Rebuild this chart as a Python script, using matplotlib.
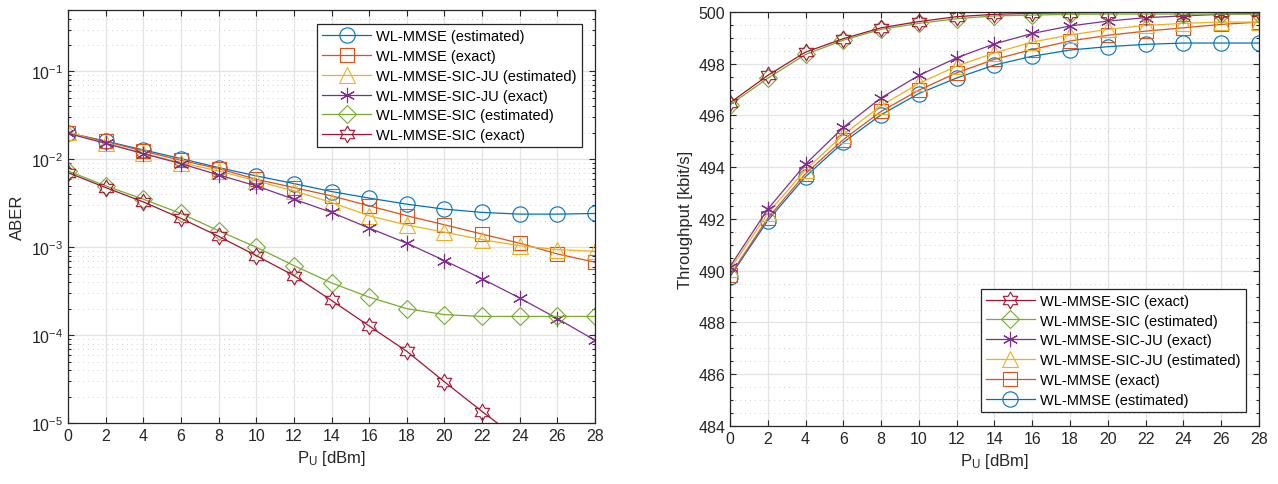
import numpy as np
import matplotlib
matplotlib.use("Agg")
import matplotlib.pyplot as plt
from matplotlib.path import Path
from matplotlib.ticker import MultipleLocator, LogLocator, NullFormatter

plt.rcParams['font.family'] = ['Liberation Sans', 'DejaVu Sans']
plt.rcParams['mathtext.fontset'] = 'custom'
plt.rcParams['mathtext.rm'] = 'Liberation Sans'
plt.rcParams['mathtext.it'] = 'Liberation Sans:italic'
plt.rcParams['mathtext.bf'] = 'Liberation Sans:bold'

# data
p_u = np.arange(0, 30, 2)

aber_mmse_est = [0.0200, 0.0161, 0.0128, 0.0102, 0.00805, 0.00648, 0.0053, 0.0043, 0.00362,
                 0.00309, 0.00271, 0.00249, 0.00238, 0.00238, 0.00242]
aber_mmse_exact = [0.0200, 0.0160, 0.0124, 0.00974, 0.00784, 0.00593, 0.00477, 0.00384, 0.00296,
                   0.00228, 0.00180, 0.00141, 0.00111, 0.000838, 0.000675]
aber_ju_est = [0.0204, 0.0152, 0.0117, 0.00917, 0.00738, 0.00568, 0.00438, 0.00323, 0.00228,
               0.00179, 0.00148, 0.00122, 0.00104, 0.000938, 0.000899]
aber_ju_exact = [0.0197, 0.0152, 0.0116, 0.00893, 0.00664, 0.00499, 0.00352, 0.00249, 0.00165,
                 0.00111, 0.000705, 0.000437, 0.000264, 0.000154, 0.0000873]
aber_sic_est = [0.00738, 0.00499, 0.00352, 0.00242, 0.00154, 0.00100, 0.000618, 0.000393, 0.000270,
                0.000200, 0.000171, 0.000163, 0.000163, 0.000163, 0.000163]
aber_sic_exact = [0.00706, 0.00477, 0.00328, 0.00213, 0.00133, 0.000802, 0.000476, 0.000248, 0.000127,
                  0.0000654, 0.0000294, 0.0000135, 0.0000064, 0.0000029, 0.0000013]

thr_mmse_est = [489.77, 491.94, 493.64, 494.96, 496.03, 496.85, 497.45, 497.95, 498.29,
                498.53, 498.66, 498.75, 498.80, 498.80, 498.80]
thr_mmse_exact = [489.82, 492.03, 493.75, 495.07, 496.16, 496.98, 497.65, 498.17, 498.55,
                  498.88, 499.10, 499.26, 499.39, 499.52, 499.61]
thr_ju_est = [490.05, 492.22, 493.90, 495.26, 496.38, 497.24, 497.91, 498.42, 498.84,
              499.11, 499.33, 499.48, 499.56, 499.61, 499.61]
thr_ju_exact = [490.16, 492.38, 494.12, 495.54, 496.68, 497.55, 498.23, 498.77, 499.17,
                499.46, 499.65, 499.78, 499.85, 499.91, 499.95]
thr_sic_est = [496.41, 497.44, 498.36, 498.91, 499.33, 499.56, 499.74, 499.85, 499.88,
               499.91, 499.92, 499.92, 499.92, 499.92, 499.92]
thr_sic_exact = [496.49, 497.55, 498.45, 498.97, 499.39, 499.63, 499.82, 499.91, 499.95,
                 499.97, 499.98, 499.99, 500.0, 500.0, 500.0]

labels = ['WL-MMSE (estimated)', 'WL-MMSE (exact)', 'WL-MMSE-SIC-JU (estimated)',
          'WL-MMSE-SIC-JU (exact)', 'WL-MMSE-SIC (estimated)', 'WL-MMSE-SIC (exact)']

# matlab default colours / markers
colors = ['#0072BD', '#D95319', '#EDB120', '#7E2F8E', '#77AC30', '#A2142F']
hexagram = Path.unit_regular_star(6, 0.577)
asterisk = (6, 2, 0)
markers = ['o', 's', '^', asterisk, 'D', hexagram]
msizes = [11, 10, 11, 11, 9, 12]
axcol = '#262626'


def style_axes(ax):
    ax.set_xlim(0, 28)
    ax.xaxis.set_major_locator(MultipleLocator(2))
    ax.tick_params(which='both', direction='in', top=True, right=True, colors=axcol,
                   labelsize=11.5, width=0.8)
    ax.tick_params(which='major', length=4)
    ax.tick_params(which='minor', length=2.5)
    ax.tick_params(axis='x', which='minor', bottom=False, top=False)
    for s in ax.spines.values():
        s.set_color(axcol)
        s.set_linewidth(0.9)
    ax.grid(True, which='major', color='#e3e3e3', linewidth=0.9, linestyle='-')
    ax.grid(True, which='minor', axis='y', color='#cfcfcf', linewidth=0.7, linestyle=(0, (1, 4)))
    ax.set_axisbelow(True)
    ax.set_xlabel(r'P$_\mathrm{U}$ [dBm]', fontsize=12, color=axcol, labelpad=4)


fig = plt.figure(figsize=(12.78, 4.85), dpi=100)
ax1 = fig.add_axes([0.0532, 0.1258, 0.4124, 0.8515])
ax2 = fig.add_axes([0.5712, 0.1196, 0.4139, 0.8536])

aber = [aber_mmse_est, aber_mmse_exact, aber_ju_est, aber_ju_exact, aber_sic_est, aber_sic_exact]
thr = [thr_mmse_est, thr_mmse_exact, thr_ju_est, thr_ju_exact, thr_sic_est, thr_sic_exact]

h2 = []
for i in range(6):
    ax1.semilogy(p_u, aber[i], color=colors[i], marker=markers[i], ms=msizes[i], mfc='none',
                 mew=0.8, lw=0.9, label=labels[i])
    h, = ax2.plot(p_u, thr[i], color=colors[i], marker=markers[i], ms=msizes[i], mfc='none',
                  mew=0.8, lw=0.9, label=labels[i])
    h2.append(h)

style_axes(ax1)
ax1.set_ylim(1e-5, 0.5)
ax1.yaxis.set_major_locator(LogLocator(base=10, numticks=10))
ax1.yaxis.set_minor_locator(LogLocator(base=10, subs=np.arange(2, 10), numticks=10))
ax1.yaxis.set_minor_formatter(NullFormatter())
ax1.set_ylabel('ABER', fontsize=12, color=axcol)

style_axes(ax2)
ax2.set_ylim(484, 500)
ax2.yaxis.set_major_locator(MultipleLocator(2))
ax2.yaxis.set_minor_locator(MultipleLocator(0.5))
ax2.set_ylabel('Throughput [kbit/s]', fontsize=12, color=axcol)

leg_kw = dict(fontsize=10.5, labelspacing=0.4, handlelength=3.3, borderaxespad=0, fancybox=False,
              framealpha=1, edgecolor=axcol, borderpad=0.35, handletextpad=0.4)
l1 = ax1.legend(loc='upper right', bbox_to_anchor=(0.9753, 0.966), **leg_kw)
l2 = ax2.legend(h2[::-1], labels[::-1], loc='lower right', bbox_to_anchor=(0.9754, 0.0338), **leg_kw)
for lg in (l1, l2):
    lg.get_frame().set_linewidth(0.9)

fig.savefig('out.png', dpi=100)
